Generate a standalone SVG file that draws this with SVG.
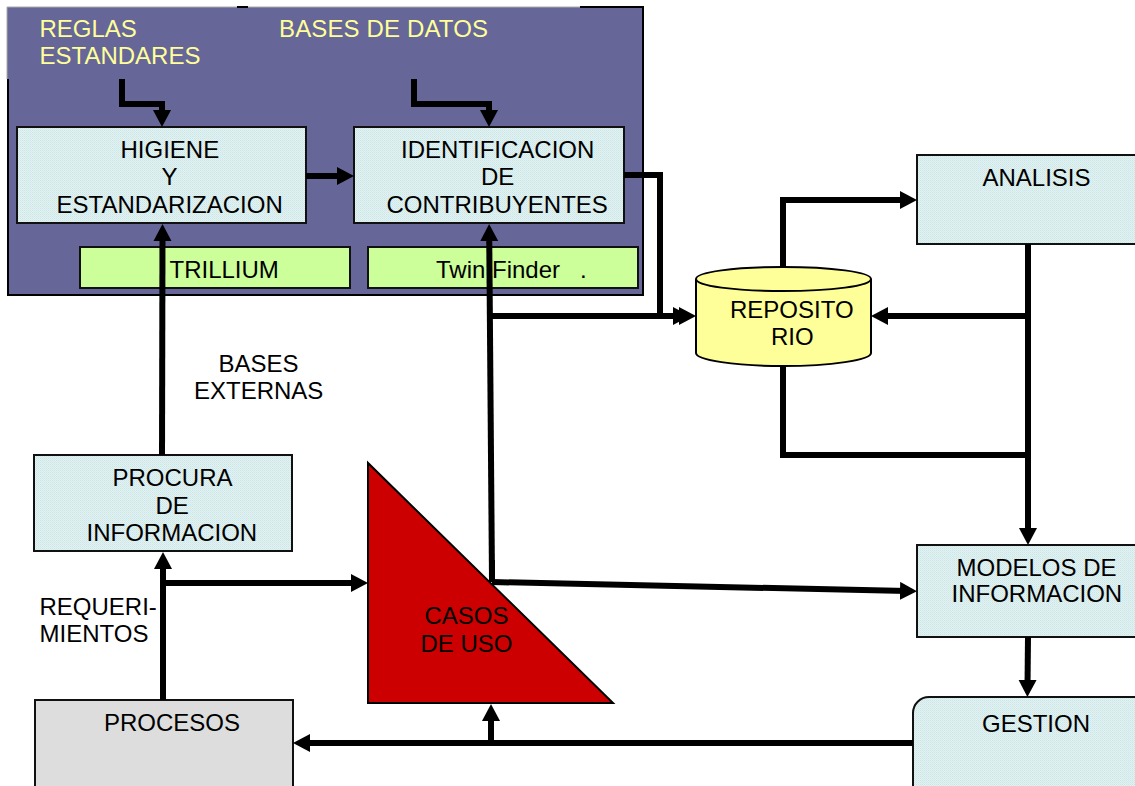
<svg xmlns="http://www.w3.org/2000/svg" width="1135" height="786" viewBox="0 0 1135 786">
<style>
text{font-family:"Liberation Sans",Arial,sans-serif;font-size:24px;fill:#000;white-space:pre}
.y{fill:#FFFF99}
.box{fill:url(#dither);stroke:#111;stroke-width:2}
.green{fill:#CCFF99;stroke:#111;stroke-width:2}
.edge{fill:none;stroke:#000;stroke-width:6}
.head{fill:none;stroke:#000;stroke-width:6;marker-end:url(#ah)}
.frame{fill:none;stroke:#000;stroke-width:2}
</style>
<defs>
<pattern id="dither" width="2" height="2" patternUnits="userSpaceOnUse">
<rect width="2" height="2" fill="#E2F1F1"/>
<rect width="1" height="1" fill="#CCE5E5"/>
<rect x="1" y="1" width="1" height="1" fill="#D6EBEB"/>
</pattern>
<marker id="ah" markerUnits="userSpaceOnUse" markerWidth="20" markerHeight="20" refX="7" refY="9" orient="auto">
<path d="M0,0L17,9L0,18Z" fill="#000"/>
</marker>
</defs>
<g id="panel">
<rect x="7" y="7" width="636" height="288" fill="#666699"/>
<path d="M7,79V7H643" fill="none" stroke="#AAAAAA" stroke-width="1"/>
<path class="frame" d="M8,79V295H643V7H580"/>
<path class="frame" d="M237,7H248"/>
<text class="y" x="39.500" y="37">REGLAS</text>
<text class="y" x="39.500" y="64">ESTANDARES</text>
<text class="y" x="279" y="37" textLength="209">BASES DE DATOS</text>
</g>
<g id="higiene">
<rect class="box" x="17" y="127" width="289" height="96"/>
<text x="120.500" y="158">HIGIENE</text>
<text x="161.500" y="185">Y</text>
<text x="56.500" y="213">ESTANDARIZACION</text>
</g>
<g id="identificacion">
<rect class="box" x="354" y="127" width="270" height="96"/>
<text x="401" y="158">IDENTIFICACION</text>
<text x="481" y="185">DE</text>
<text x="386.500" y="213">CONTRIBUYENTES</text>
</g>
<g id="trillium">
<rect class="green" x="80" y="247" width="270" height="41"/>
<text x="169.500" y="278">TRILLIUM</text>
</g>
<g id="twinfinder">
<rect class="green" x="368" y="247" width="270" height="41"/>
<text x="436" y="278">Twin Finder   .</text>
</g>
<g id="analisis">
<rect class="box" x="917" y="155" width="222" height="89"/>
<text x="982.500" y="186">ANALISIS</text>
</g>
<g id="repositorio">
<path d="M696,279C696,272 735,267 783,267C831,267 871,272 871,279V353C871,360 831,366 783,366C735,366 696,360 696,353Z" fill="#FFFF99" stroke="#000" stroke-width="2"/>
<path d="M696,279C696,286 735,291 783,291C831,291 871,286 871,279" fill="none" stroke="#000" stroke-width="2"/>
<text x="730" y="318">REPOSITO</text>
<text x="771" y="345">RIO</text>
</g>
<g id="bases-externas">
<text x="218.500" y="372">BASES</text>
<text x="194" y="399">EXTERNAS</text>
</g>
<g id="procura">
<rect class="box" x="34" y="455" width="258" height="96"/>
<text x="112.500" y="486">PROCURA</text>
<text x="155.500" y="514">DE</text>
<text x="86.500" y="541">INFORMACION</text>
</g>
<g id="requerimientos">
<text x="39.500" y="615">REQUERI-</text>
<text x="39.500" y="642">MIENTOS</text>
</g>
<g id="modelos">
<rect class="box" x="917" y="545" width="222" height="92"/>
<text x="956.500" y="576">MODELOS DE</text>
<text x="951.500" y="602">INFORMACION</text>
</g>
<g id="gestion">
<rect class="box" x="913" y="697" width="240" height="110" rx="16"/>
<text x="982" y="732">GESTION</text>
</g>
<g id="procesos">
<rect x="35" y="700" width="258" height="100" fill="#DDDDDD" stroke="#111" stroke-width="2"/>
<text x="104" y="731">PROCESOS</text>
</g>
<g id="connectors">
<path class="head" d="M122,79V104H162V117"/>
<path class="head" d="M414,79V104H489V117"/>
<path class="head" d="M306,176H344"/>
<path class="head" d="M624,175H660V316H686"/>
<path class="head" d="M491,316H680"/>
<path class="head" d="M162,455L162.500,234"/>
<path class="head" d="M492,580L489.200,234"/>
<path class="head" d="M492,582L907,591"/>
<path class="head" d="M163,700V562"/>
<path class="head" d="M163,583H358"/>
<path class="head" d="M913,743H303"/>
<path class="head" d="M491,743V714"/>
<path class="head" d="M783,267V200H907"/>
<path class="head" d="M1028,244V535"/>
<path class="head" d="M1028,316H881"/>
<path class="edge" d="M783,366V455H1028"/>
<path class="head" d="M1028,637L1027.500,687"/>
</g>
<g id="casos">
<path d="M368,463V703H613Z" fill="#CC0000" stroke="#000" stroke-width="2"/>
<path class="edge" d="M492,560V582"/>
<text x="424.500" y="624">CASOS</text>
<text x="420.500" y="652">DE USO</text>
</g>
</svg>
